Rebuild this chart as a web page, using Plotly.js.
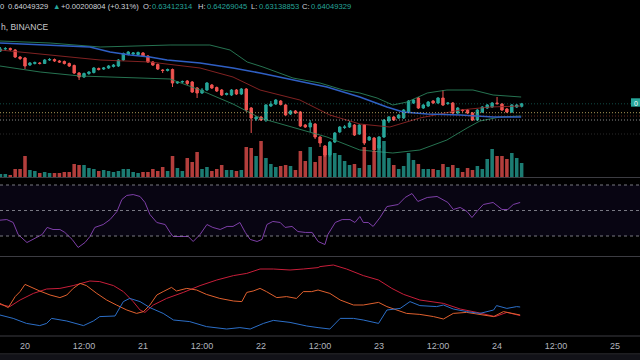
<!DOCTYPE html>
<html><head><meta charset="utf-8">
<script src="https://cdn.plot.ly/plotly-3.0.1.min.js"></script>
<style>html,body{margin:0;padding:0;background:#000;}#chart{width:640px;height:360px;}</style>
</head><body><div id="chart"></div>
<script>
// ---- hourly candles (hour 0 = day 20, 00:00) ----
const firstHour = -5;
const openP = [.7725,.7775,.77875,.775,.7575,.755,.7375,.74125,.7425,.74125,.75,.75125,.7475,.74625,.74125,.73625,.7175,.7075,.71625,.71875,.72875,.7275,.73,.73375,.735,.75,.76375,.765,.76375,.7675,.76,.745,.73875,.725,.72375,.72625,.6925,.695,.6975,.695,.68,.6675,.675,.6875,.68125,.675,.66375,.6625,.675,.665,.6775,.63,.6025,.6075,.60,.635,.64,.6475,.6375,.615,.6225,.62,.5875,.5825,.59,.5575,.535,.5125,.545,.57,.58125,.5825,.5875,.565,.5875,.55,.555,.53,.5575,.5975,.6075,.605,.605,.62,.6425,.655,.63,.635,.6475,.6425,.655,.64125,.6425,.6175,.625,.625,.6175,.60,.62,.63,.6325,.6425,.64,.6275,.62,.6325,.63412314];
const highP = [.7825,.7825,.78125,.7775,.76,.7575,.745,.74625,.745,.7525,.755,.75375,.75,.74875,.74375,.73875,.72,.71875,.7225,.7325,.73125,.7325,.7375,.74,.7525,.76875,.7725,.77,.77125,.77,.7625,.7475,.74125,.7275,.72875,.72875,.6975,.69875,.70,.6975,.6825,.68,.695,.69,.68375,.6775,.66875,.6775,.6775,.68,.68,.6325,.61,.61,.64,.6475,.6525,.65,.64,.625,.625,.6225,.59,.60,.5925,.56,.5375,.5475,.57,.585,.5875,.5975,.59,.59,.59,.56,.5575,.56,.6025,.61,.61,.615,.6275,.65,.6525,.6575,.64,.6475,.65,.6575,.675,.645,.645,.6325,.6275,.6275,.62,.6275,.635,.64,.645,.6575,.6425,.63,.64,.64,.64269045];
const lowP = [.77,.77375,.7725,.755,.75,.7275,.735,.73875,.73875,.74,.7475,.745,.7425,.73875,.7325,.715,.70,.705,.7125,.71625,.72375,.725,.7275,.73125,.7325,.7475,.76125,.7625,.7625,.7575,.7425,.735,.725,.7175,.72125,.6825,.69,.6925,.6875,.6675,.655,.665,.6725,.6775,.67,.66,.66125,.66,.6625,.6625,.62,.5675,.5975,.5975,.595,.6325,.6375,.63625,.61,.6125,.615,.5825,.58,.57,.5525,.5325,.5075,.5075,.5425,.5675,.5775,.58,.56,.5625,.5375,.5475,.52,.525,.555,.5925,.5975,.6025,.6025,.6175,.64,.6275,.6275,.6325,.64,.64,.635,.6375,.615,.615,.62,.615,.5975,.5975,.6175,.6275,.63,.6375,.6225,.6175,.6175,.63,.63138853];
const closeP = [.7775,.77875,.77625,.7575,.75375,.735,.7425,.74375,.74125,.75,.75125,.7475,.745,.74125,.735,.7175,.7075,.71625,.72,.73,.72625,.73,.735,.7375,.75,.76625,.77,.7675,.76875,.76,.745,.7375,.7275,.72375,.72625,.6925,.695,.69625,.69125,.67,.6675,.675,.6925,.68,.6725,.6625,.66625,.675,.665,.6775,.625,.605,.6075,.60,.6375,.64,.65,.63875,.6125,.6225,.6175,.585,.5825,.5925,.5575,.5425,.5125,.545,.5675,.5825,.5825,.5925,.5625,.5875,.5425,.5575,.525,.5575,.60,.6075,.60,.6125,.625,.6475,.65,.63,.6375,.645,.6425,.655,.6375,.6425,.6175,.63,.62375,.6175,.60,.625,.6325,.6375,.6425,.64125,.625,.62,.6375,.6375,.64049329];
const volume = [150,150,100,400,400,1050,350,300,200,250,200,200,200,250,250,650,600,600,450,400,300,350,300,250,300,400,400,250,200,250,250,400,300,500,300,1050,450,300,950,750,1250,400,500,300,400,600,350,350,300,350,1500,1450,1050,1800,950,650,500,550,600,550,350,1300,800,1500,750,1050,1450,1700,1200,1100,800,600,650,450,1500,600,1300,1600,1800,950,600,400,550,1200,850,650,400,400,400,350,650,500,600,450,250,450,350,550,400,900,1400,1050,1050,900,1200,950,700];
const hours = openP.map((_, i) => firstHour + i);

// ---- overlays on price pane ----
const maH = [-5.1,4.1,13.2,17.3,21.4,25.4,28.9,35.6,42.3,47.8,54.5,61.4,68.1,73.6,76.9,81.8,88.5,95.2,100.9];
const maV = [.7925,.7875,.7825,.77,.7625,.7575,.75,.7425,.73,.7175,.70,.6825,.6575,.6325,.62,.615,.6125,.6075,.6075];
const bbUpH = [-5.1,5.1,15.3,21.4,29.5,37.6,41.7,45.2,48.4,54.5,60.0,64.7,68.1,71.6,74.8,77.7,81.8,85.8,91.1,95.2,100.9];
const bbUpV = [.7975,.7925,.7825,.785,.7875,.7875,.775,.745,.7325,.705,.6925,.675,.6675,.655,.6375,.645,.6675,.675,.675,.6625,.6575];
const bbLoH = [-5.1,3.1,11.2,21.4,29.5,35.6,42.3,47.8,54.5,61.4,68.1,74.8,80.3,85.8,89.9,92.5,96.6,100.9];
const bbLoV = [.735,.72,.71,.705,.7025,.675,.64,.605,.5825,.5575,.525,.5175,.525,.55,.58,.5975,.6075,.61];
const bbMidH = [-5.1,5.1,15.3,25.4,35.6,42.3,47.8,55.9,62.0,68.1,74.2,80.3,88.5,94.6,100.9];
const bbMidV = [.775,.7625,.75,.745,.73,.7075,.675,.65,.6125,.59,.5825,.605,.625,.6325,.635];
const levelLines = [0.61825, 0.61, 0.60, 0.565];

// ---- RSI ----
const rsiH = [-5.1,-3.7,-2.4,-1.4,0.4,1.6,2.6,3.5,4.5,5.7,7.1,8.1,9.6,10.8,12.2,13.2,14.2,15.9,17.3,18.7,19.7,20.7,22.0,23.4,24.4,25.4,26.8,28.5,29.5,30.1,31.9,33.2,34.2,35.6,37.0,38.2,39.7,41.1,42.3,43.7,44.8,45.8,47.2,48.2,49.2,50.4,51.9,52.9,54.3,55.5,57.0,58.4,59.6,61.0,61.6,63.1,64.5,66.1,67.1,68.1,68.8,69.8,70.8,72.2,73.6,75.9,77.3,78.7,79.9,81.8,83.8,85.0,86.0,87.1,88.5,89.9,90.9,91.9,93.2,95.2,97.0,98.2,99.3,100.7];
const rsiV = [42.4,42.9,40.6,31.2,24.9,27.3,28.8,31.2,36.7,35.1,35.1,32.8,27.3,21.0,24.9,29.6,36.7,39.0,42.9,49.2,58.6,61.8,62.5,61.0,56.3,46.9,40.6,39.0,32.8,29.6,29.6,29.6,25.7,31.2,39.0,36.7,35.1,37.5,37.5,40.6,32.8,27.3,25.7,27.3,39.0,41.4,40.6,36.7,37.5,33.5,32.8,32.8,25.7,23.3,31.2,40.6,42.9,42.9,40.6,45.3,40.6,40.6,37.5,44.5,53.1,54.7,60.2,63.3,57.1,60.2,61.0,58.6,56.3,50.8,52.4,49.2,44.5,49.2,54.7,56.3,50.8,50.8,54.7,56.3];
const rsiLevels = [70, 50, 30];

// ---- DMI ----
const adxH = [-5.1,-3.1,-1.0,1.7,4.4,7.1,9.8,11.9,13.2,15.2,18.0,20.0,22.0,23.4,24.4,26.1,28.8,32.2,35.6,39.0,42.4,45.1,47.8,50.5,53.9,56.6,59.6,60.0,62.7,65.4,68.8,71.9,74.6,77.0,80.3,85.1,88.5,91.9,93.9,95.6,98.0,100.7];
const adxV = [15.8,14.7,18.0,21.3,23.5,23.8,25.2,26.8,27.5,27.2,25.2,22.2,17.2,13.0,11.8,15.5,18.8,21.8,25.2,28.0,30.2,31.3,33.5,33.5,33.0,33.5,34.2,34.7,35.5,33.5,30.2,28.0,23.8,20.8,18.0,16.3,13.5,11.8,10.5,9.7,11.8,10.2];
const diMinusH = [-5.1,-3.4,-2.0,-1.0,0.0,1.3,3.0,5.1,7.1,8.5,9.8,11.2,12.5,14.6,16.6,18.6,20.7,22.7,24.1,25.4,26.8,28.1,29.8,30.8,32.9,34.9,36.9,39.6,42.4,44.1,45.1,46.4,47.8,49.1,51.2,53.2,55.2,56.6,58.3,59.6,62.0,64.1,66.8,68.8,71.9,73.6,75.6,77.6,80.3,83.1,85.1,87.1,89.8,92.5,95.3,97.3,99.3,100.7];
const diMinusV = [16.3,14.2,19.7,22.2,25.8,24.2,22.5,20.5,19.2,20.5,23.8,26.3,25.2,21.3,18.0,15.5,13.0,11.3,12.2,15.5,20.5,22.2,24.3,22.5,23.8,23.0,20.8,18.8,17.5,17.2,21.8,22.5,23.8,22.2,19.2,19.7,18.8,22.2,22.2,23.0,21.3,18.0,15.5,15.5,16.8,14.7,13.0,11.3,10.8,9.7,8.5,11.3,11.8,10.8,9.7,12.2,11.3,10.5];
const diPlusH = [-5.1,-2.4,0.3,3.0,4.4,5.4,8.5,11.9,13.9,15.2,18.3,20.0,21.3,23.4,25.4,28.1,30.2,33.5,36.9,41.0,43.7,45.8,48.5,50.5,53.9,57.3,59.6,62.0,64.1,66.8,68.8,71.9,73.6,76.3,78.3,80.3,83.7,85.1,87.1,89.8,92.5,95.3,95.9,98.0,100.0,100.7];
const diPlusV = [10.5,8.8,6.3,5.2,6.3,8.8,7.5,5.2,7.5,9.7,10.0,17.2,18.8,17.2,14.2,11.3,8.0,7.2,4.7,3.5,4.2,3.5,6.3,7.8,6.8,5.0,4.2,3.5,8.8,8.8,8.0,6.3,13.0,13.8,17.2,15.2,14.7,15.5,13.5,12.2,11.3,13.0,15.2,13.8,14.7,14.5];

// ---- axis labels / header ----
const tickHours = [0,12,24,36,48,60,72,84,96,108,120];
const tickLabels = ['20','12:00','21','12:00','22','12:00','23','12:00','24','12:00','25'];
const changeText = '+0.00200804 (+0.31%)';
const symbolText = 'h, BINANCE';

const UP = '#26a69a', DOWN = '#ef5350';
const H = 336; // plot area height in px
const py = p => 1 - p / H;
const last = openP.length - 1;
const fmt = v => v.toFixed(8);

const volColors = openP.map((o, i) => closeP[i] >= o ? 'rgba(38,166,154,0.75)' : 'rgba(239,83,80,0.75)');

const traces = [
  {type:'bar', x:hours, y:volume, yaxis:'y2', marker:{color:volColors, line:{width:0}}, width:0.72, hoverinfo:'skip'},
  {type:'scatter', mode:'lines', x:bbUpH, y:bbUpV, line:{color:'rgba(45,135,95,0.85)', width:1}},
  {type:'scatter', mode:'lines', x:bbLoH, y:bbLoV, line:{color:'rgba(45,135,95,0.85)', width:1}},
  {type:'scatter', mode:'lines', x:bbMidH, y:bbMidV, line:{color:'rgba(150,40,40,0.85)', width:1}},
  {type:'scatter', mode:'lines', x:maH, y:maV, line:{color:'#2f5fc4', width:1.6}},
  {type:'candlestick', x:hours, open:openP, high:highP, low:lowP, close:closeP,
   increasing:{line:{color:UP, width:1}, fillcolor:UP},
   decreasing:{line:{color:DOWN, width:1}, fillcolor:DOWN}, whiskerwidth:0},
  {type:'scatter', mode:'lines', x:rsiH, y:rsiV, yaxis:'y3', line:{color:'#7e3fa8', width:1}},
  {type:'scatter', mode:'lines', x:adxH, y:adxV, yaxis:'y4', line:{color:'#c81e3a', width:1}},
  {type:'scatter', mode:'lines', x:diMinusH, y:diMinusV, yaxis:'y4', line:{color:'#e0602e', width:1}},
  {type:'scatter', mode:'lines', x:diPlusH, y:diPlusV, yaxis:'y4', line:{color:'#2c6fc8', width:1}}
];

const shapes = [];
shapes.push({type:'rect', xref:'paper', x0:0, x1:1, yref:'y3', y0:30, y1:70, fillcolor:'rgba(60,35,130,0.14)', line:{width:0}, layer:'below'});
rsiLevels.forEach(v => shapes.push({type:'line', xref:'paper', x0:0, x1:1, yref:'y3', y0:v, y1:v, line:{color:'rgba(150,150,160,0.8)', width:1, dash:'3px,3px'}}));
shapes.push({type:'line', xref:'paper', x0:0, x1:1, yref:'y', y0:closeP[last], y1:closeP[last], line:{color:'rgba(38,166,154,0.45)', width:1, dash:'1px,2px'}});
const lvlColors = ['rgba(215,190,110,0.8)','rgba(200,90,70,0.5)','rgba(200,200,200,0.7)','rgba(120,120,120,0.35)'];
levelLines.forEach((v, i) => shapes.push({type:'line', xref:'paper', x0:0, x1:1, yref:'y', y0:v, y1:v, line:{color:lvlColors[i], width:1, dash:'1px,2px'}}));
[177.5, 256.5, 336, 354].forEach(p => shapes.push({type:'line', xref:'paper', x0:0, x1:1, yref:'paper', y0:py(p), y1:py(p), line:{color:'rgba(110,110,120,0.55)', width:1}}));
shapes.push({type:'rect', xref:'paper', x0:0, x1:1, yref:'paper', y0:py(360), y1:py(354.5), fillcolor:'#121218', line:{width:0}});
shapes.push({type:'rect', xref:'paper', x0:631/640, x1:1, yref:'y', y0:0.6333, y1:0.6543, fillcolor:UP, line:{width:0}});

const font = 'Liberation Sans, Arial, sans-serif';
const headerParts = [
  [-1, '0', '#d1d4dc'],
  [7, fmt(closeP[last]), '#d1d4dc'],
  [52, '▲', UP],
  [60, changeText, '#d1d4dc'],
  [142, 'O:', '#d1d4dc'], [151, fmt(openP[last]), UP],
  [197, 'H:', '#d1d4dc'], [206, fmt(highP[last]), UP],
  [250, 'L:', '#d1d4dc'], [258, fmt(lowP[last]), UP],
  [301, 'C:', '#d1d4dc'], [310, fmt(closeP[last]), UP]
];
const annotations = headerParts.map(([x, t, c]) => ({
  xref:'paper', yref:'paper', x:x/640, y:py(6), xanchor:'left', yanchor:'middle',
  text:t, showarrow:false, borderpad:0, font:{family:font, size:7.6, color:c}
}));
annotations.push({xref:'paper', yref:'paper', x:0, y:py(27), xanchor:'left', yanchor:'middle',
  text:symbolText, showarrow:false, borderpad:0, font:{family:font, size:8.5, color:'#c8c8cc'}});
annotations.push({xref:'paper', yref:'y', x:633/640, y:closeP[last], xanchor:'left', yanchor:'middle',
  text:'0', showarrow:false, borderpad:0, font:{family:font, size:7, color:'#ffffff'}});

const hidden = {visible:false, fixedrange:true, showgrid:false, zeroline:false};
const layout = {
  width:640, height:360, margin:{l:0, r:0, t:0, b:24},
  paper_bgcolor:'#000', plot_bgcolor:'#000', showlegend:false,
  xaxis:{range:[-5.084,125.07], anchor:'y4', tickvals:tickHours, ticktext:tickLabels,
    tickfont:{family:font, size:9, color:'#b2b5be'}, showgrid:false, zeroline:false, showline:false,
    ticks:'', ticklabelstandoff:3, rangeslider:{visible:false}, fixedrange:true},
  yaxis:Object.assign({domain:[1-177/H, 1], range:[0.4575, 0.9]}, hidden),
  yaxis2:Object.assign({overlaying:'y', range:[0, 8850]}, hidden),
  yaxis3:Object.assign({domain:[1-256/H, 1-178/H], range:[14.31, 75.49]}, hidden),
  yaxis4:Object.assign({domain:[0, 1-257/H], range:[0, 39.5]}, hidden),
  shapes:shapes, annotations:annotations, hovermode:false
};
Plotly.newPlot('chart', traces, layout, {staticPlot:true, displayModeBar:false});
</script>
</body></html>
